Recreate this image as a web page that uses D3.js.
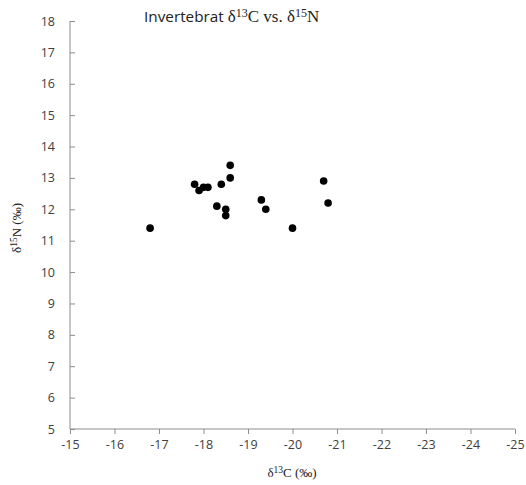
<!DOCTYPE html>
<html>
<head>
<meta charset="utf-8">
<script src="https://cdn.jsdelivr.net/npm/d3@7"></script>
<style>
  body { margin: 0; background: #fff; }
  .tick text { font-family: "Open Sans", "Liberation Sans", sans-serif; font-size: 12.5px; fill: #404040; }
  .serif { font-family: "Liberation Serif", "DejaVu Serif", serif; }
</style>
</head>
<body>
<svg id="chart" width="526" height="485"></svg>
<script>
// invertebrate isotope values
const d13C = [-16.8, -17.8, -17.9, -18.0, -18.1, -18.6, -18.6, -18.4, -18.3, -18.5, -18.5, -19.3, -19.4, -20.0, -20.7, -20.8]
const d15N = [11.4, 12.8, 12.6, 12.7, 12.7, 13.4, 13.0, 12.8, 12.1, 12.0, 11.8, 12.3, 12.0, 11.4, 12.9, 12.2]
const xTicks = [-15, -16, -17, -18, -19, -20, -21, -22, -23, -24, -25]
const yTicks = [5, 6, 7, 8, 9, 10, 11, 12, 13, 14, 15, 16, 17, 18]

const svg = d3.select("#chart")
const plotLeft = 70, plotRight = 515, plotTop = 21, plotBottom = 429

// x runs from -15 on the left to -25 on the right
const x = d3.scaleLinear().domain([-15, -25]).range([plotLeft, plotRight])
const y = d3.scaleLinear().domain([5, 18]).range([plotBottom, plotTop])

const axisColor = "#8c8c8c"

const xAxis = svg.append("g")
  .attr("transform", `translate(0,${plotBottom})`)
  .call(d3.axisBottom(x).tickValues(xTicks).tickSize(5).tickPadding(6).tickFormat(d3.format("d")))
xAxis.select(".domain").attr("stroke", axisColor).attr("d", `M${plotLeft},0H${plotRight}`)
xAxis.selectAll(".tick line").attr("stroke", axisColor)
xAxis.selectAll(".tick text").text(d => "-" + Math.abs(d))

const yAxis = svg.append("g")
  .attr("transform", `translate(${plotLeft},0)`)
  .call(d3.axisLeft(y).tickValues(yTicks).tickSize(0).tickPadding(15))
yAxis.select(".domain").attr("stroke", axisColor).attr("d", `M0,${plotTop}V${plotBottom}`)
yAxis.selectAll(".tick").append("line").attr("x2", 5).attr("stroke", axisColor)

// points
const pts = d13C.map((c, i) => ({ c, n: d15N[i] }))
svg.append("g").selectAll("circle")
  .data(pts)
  .join("circle")
  .attr("cx", d => x(d.c))
  .attr("cy", d => y(d.n))
  .attr("r", 3.8)
  .attr("fill", "#000")

// title: mixed sans / serif with superscripts
const title = svg.append("text").attr("x", 144).attr("y", 22).attr("font-size", 17).attr("fill", "#222")
title.append("tspan").attr("font-family", "'Open Sans', 'Liberation Sans', sans-serif").attr("font-size", 15.3).text("Invertebrat ")
title.append("tspan").attr("class", "serif").text("δ")
title.append("tspan").attr("class", "serif").attr("font-size", 12).attr("dy", -5).text("13")
title.append("tspan").attr("class", "serif").attr("dy", 5).text("C vs. δ")
title.append("tspan").attr("class", "serif").attr("font-size", 12).attr("dy", -5).text("15")
title.append("tspan").attr("class", "serif").attr("dy", 5).text("N")

// x-axis label
const xl = svg.append("text").attr("class", "serif").attr("x", 292).attr("y", 477)
  .attr("text-anchor", "middle").attr("font-size", 13).attr("fill", "#222")
xl.append("tspan").text("δ")
xl.append("tspan").attr("font-size", 9.5).attr("dy", -4).text("13")
xl.append("tspan").attr("dy", 4).text("C (‰)")

// y-axis label
const yl = svg.append("text").attr("class", "serif")
  .attr("transform", "translate(21,228) rotate(-90)")
  .attr("text-anchor", "middle").attr("font-size", 13).attr("fill", "#222")
yl.append("tspan").text("δ")
yl.append("tspan").attr("font-size", 9.5).attr("dy", -4).text("15")
yl.append("tspan").attr("dy", 4).text("N (‰)")
</script>
</body>
</html>
